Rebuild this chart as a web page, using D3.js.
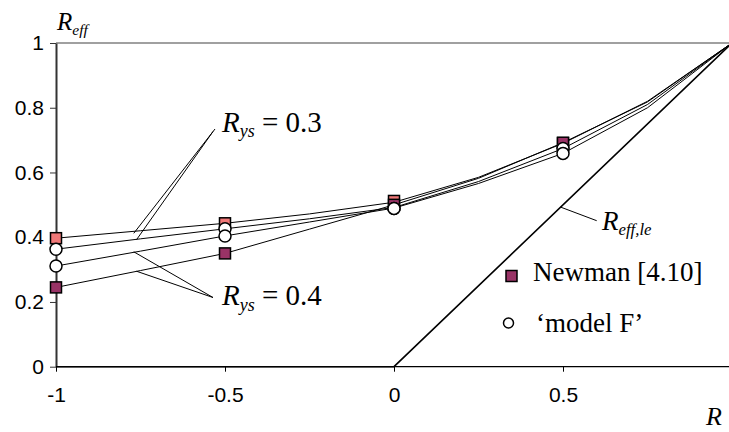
<!DOCTYPE html>
<html><head><meta charset="utf-8">
<script src="https://cdn.jsdelivr.net/npm/d3@7"></script>
<style>html,body{margin:0;padding:0;background:#fff;overflow:hidden}
.serif{font-family:'Liberation Serif','Tinos','Times New Roman',Times,'Noto Serif','DejaVu Serif',serif}
.sans{font-family:'Liberation Sans',Arial,Helvetica,sans-serif}</style>
</head><body>
<svg id="c" width="729" height="432"></svg>
<script>
// ---- data ----
const curveR = [-1, -0.75, -0.5, -0.25, 0, 0.25, 0.5, 0.75, 1];
const newman03 = [0.397, 0.420, 0.443, 0.472, 0.508, 0.585, 0.690, 0.820, 1];
const modelF03 = [0.363, 0.395, 0.426, 0.457, 0.492, 0.572, 0.674, 0.810, 1];
const modelF04 = [0.311, 0.357, 0.404, 0.447, 0.490, 0.566, 0.659, 0.800, 1];
const newman04 = [0.245, 0.297, 0.350, 0.425, 0.500, 0.582, 0.692, 0.818, 1];
const markerR = [-1, -0.5, 0, 0.5];
const newman03Pts = [0.397, 0.443, 0.512, 0.690];
const newman04Pts = [0.245, 0.350, 0.500, 0.692];
const modelF03Pts = [0.363, 0.426, 0.489, 0.674];
const modelF04Pts = [0.311, 0.404, 0.489, 0.659];
const reffLeR = [-1, 0, 1];
const reffLe = [0, 0, 1];
const xTicks = [-1, -0.5, 0, 0.5];
const xTickLabels = ["-1", "-0.5", "0", "0.5"];
const yTicks = [0, 0.2, 0.4, 0.6, 0.8, 1];
const yTickLabels = ["0", "0.2", "0.4", "0.6", "0.8", "1"];

const svg = d3.select("#c");
const x = d3.scaleLinear().domain([-1, 1]).range([56, 732]);
const y = d3.scaleLinear().domain([0, 1]).range([366.7, 43]);

// top border
svg.append("line").attr("x1", x(-1)).attr("x2", 729).attr("y1", y(1)).attr("y2", y(1))
  .attr("stroke", "#808080").attr("stroke-width", 1.5);

// axes
const xAxis = d3.axisBottom(x).tickValues(xTicks).tickFormat((d, i) => xTickLabels[i]).tickSize(5).tickSizeOuter(0);
const gx = svg.append("g").attr("transform", `translate(0,${y(0)})`).call(xAxis);
gx.attr("font-family", null);
gx.select(".domain").remove();
gx.append("line").attr("x1", x(-1)).attr("x2", 729).attr("stroke", "#000").attr("stroke-width", 1.2);
gx.selectAll(".tick line").attr("stroke", "#000");
gx.selectAll(".tick text").attr("class", "sans").attr("font-size", 21)
  .attr("fill", "#000").attr("dy", "1.3em");

const yAxis = d3.axisLeft(y).tickValues(yTicks).tickFormat((d, i) => yTickLabels[i]).tickSize(6).tickSizeOuter(0);
const gy = svg.append("g").attr("transform", `translate(${x(-1)},0)`).call(yAxis);
gy.attr("font-family", null);
gy.select(".domain").attr("stroke", "#333").attr("stroke-width", 2);
gy.selectAll(".tick line").attr("stroke", "#333");
gy.selectAll(".tick text").attr("class", "sans").attr("font-size", 21)
  .attr("fill", "#000").attr("x", -12);

// lines
const line = d3.line().x(d => x(d[0])).y(d => y(d[1]));
[newman03, modelF03, modelF04, newman04].forEach(s => {
  svg.append("path").datum(curveR.map((r, i) => [r, s[i]])).attr("d", line)
    .attr("fill", "none").attr("stroke", "#000").attr("stroke-width", 1);
});
svg.append("path").datum(reffLeR.map((r, i) => [r, reffLe[i]])).attr("d", line)
  .attr("fill", "none").attr("stroke", "#000").attr("stroke-width", 1.6);

// leader lines
const leader = (x1, y1, x2, y2) => svg.append("line").attr("x1", x1).attr("y1", y1).attr("x2", x2).attr("y2", y2)
  .attr("stroke", "#000").attr("stroke-width", 1);
leader(x(-0.77), y(0.412), 215, 129);
leader(x(-0.762), y(0.392), 213, 131.5);
leader(x(-0.77), y(0.355), 213, 297.5);
leader(x(-0.762), y(0.295), 213, 297.5);
leader(x(0.493), y(0.493), 596.7, 220.7);

// markers
const sq = 11;
function squares(vals, color) {
  svg.append("g").selectAll("rect").data(markerR.map((r, i) => [r, vals[i]])).join("rect")
    .attr("x", d => x(d[0]) - sq / 2).attr("y", d => y(d[1]) - sq / 2)
    .attr("width", sq).attr("height", sq).attr("fill", color).attr("stroke", "#000").attr("stroke-width", 1.5);
}
function circles(vals) {
  svg.append("g").selectAll("circle").data(markerR.map((r, i) => [r, vals[i]])).join("circle")
    .attr("cx", d => x(d[0])).attr("cy", d => y(d[1])).attr("r", 6)
    .attr("fill", "#fff").attr("stroke", "#000").attr("stroke-width", 1.5);
}
squares(newman03Pts, "#F07878");
squares(newman04Pts, "#993366");
circles(modelF03Pts);
circles(modelF04Pts);

// text helpers
function subLabel(tx, ty, main, sub, rest, size) {
  const t = svg.append("text").attr("class", "serif").attr("x", tx).attr("y", ty).attr("font-size", size).attr("fill", "#000");
  t.append("tspan").attr("font-style", "italic").text(main);
  t.append("tspan").attr("font-style", "italic").attr("font-size", size * 0.62).attr("dy", size * 0.2).text(sub);
  if (rest) t.append("tspan").attr("dy", -size * 0.2).text(rest);
}
subLabel(57, 30, "R", "eff", null, 25);
subLabel(222, 131.5, "R", "ys", "\u00a0= 0.3", 29);
subLabel(222, 305, "R", "ys", "\u00a0= 0.4", 29);
subLabel(602, 230, "R", "eff,le", null, 27);
svg.append("text").attr("class", "serif").attr("x", 706).attr("y", 425).attr("font-style", "italic")
  .attr("font-size", 26).text("R");

// legend
svg.append("rect").attr("x", 506).attr("y", 270.5).attr("width", sq).attr("height", sq)
  .attr("fill", "#993366").attr("stroke", "#000").attr("stroke-width", 1.5);
svg.append("text").attr("class", "serif").attr("x", 533).attr("y", 281).attr("font-size", 27).text("Newman [4.10]");
svg.append("circle").attr("cx", 508.5).attr("cy", 323).attr("r", 5).attr("fill", "#fff").attr("stroke", "#000").attr("stroke-width", 1.5);
svg.append("text").attr("class", "serif").attr("x", 536).attr("y", 332).attr("font-size", 27).text("\u2018model F\u2019");
</script>
</body></html>
